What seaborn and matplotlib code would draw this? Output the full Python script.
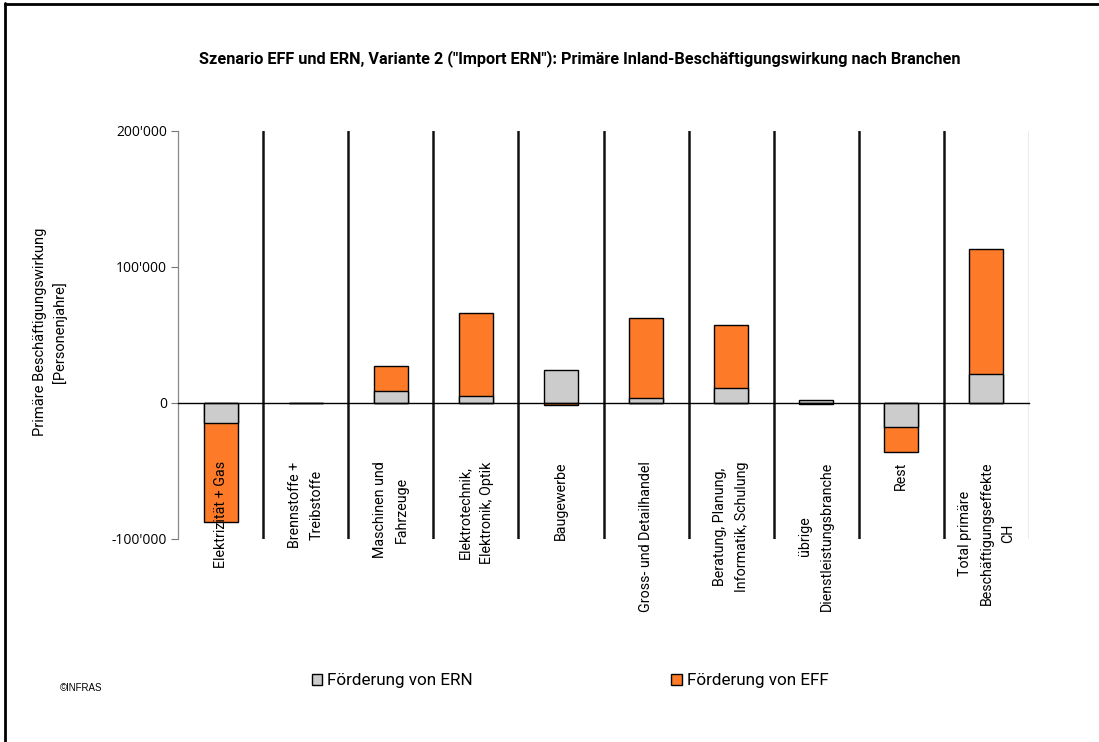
import matplotlib
matplotlib.use("Agg")
import matplotlib.pyplot as plt
from matplotlib.lines import Line2D
from matplotlib.patches import Patch
from matplotlib.ticker import FuncFormatter
import seaborn as sns

# Branches and values (Personenjahre)
branches = ['Elektrizität + Gas', 'Brennstoffe + Treibstoffe', 'Maschinen und Fahrzeuge',
            'Elektrotechnik, Elektronik, Optik', 'Baugewerbe', 'Gross- und Detailhandel',
            'Beratung, Planung, Informatik, Schulung', 'übrige Dienstleistungsbranche',
            'Rest', 'Total primäre Beschäftigungseffekte CH']
tick_labels = ['Elektrizität + Gas', 'Brennstoffe +\nTreibstoffe', 'Maschinen und\nFahrzeuge',
               'Elektrotechnik,\nElektronik, Optik', 'Baugewerbe', 'Gross- und Detailhandel',
               'Beratung, Planung,\nInformatik, Schulung', 'übrige\nDienstleistungsbranche',
               'Rest', 'Total primäre\nBeschäftigungseffekte\nCH']
ern = [-14700, 0, 8500, 4900, 24300, 3700, 11300, 2000, -18000, 21600]
eff = [-72500, 0, 19000, 61400, -1700, 58600, 46400, -800, -17900, 91800]
y_ticks = [-100000, 0, 100000, 200000]

GRAY = '#CCCCCC'
ORANGE = '#FC7A28'

sns.set_theme(style='white')
plt.rcParams['font.family'] = ['Roboto', 'DejaVu Sans']
plt.rcParams['text.color'] = 'black'
plt.rcParams['xtick.color'] = 'black'
plt.rcParams['ytick.color'] = 'black'

fig = plt.figure(figsize=(10.99, 7.42), dpi=100)
ax = fig.add_axes([178 / 1099, 1 - 539 / 742, 851 / 1099, 408 / 742])

# Excel-style stacking: EFF sits on ERN when signs agree, otherwise starts at 0
orange_extent = [a + b if a * b >= 0 else b for a, b in zip(ern, eff)]

sns.barplot(x=branches, y=orange_extent, color=ORANGE, saturation=1, width=0.4,
            edgecolor='black', linewidth=1, ax=ax)
sns.barplot(x=branches, y=ern, color=GRAY, saturation=1, width=0.4,
            edgecolor='black', linewidth=1, ax=ax)

ax.set_xlim(-0.5, len(branches) - 0.5)
ax.set_ylim(-100000, 200000)
ax.set_yticks(y_ticks)
ax.yaxis.set_major_formatter(FuncFormatter(lambda v, p: f"{int(v):,}".replace(',', "'")))
ax.tick_params(axis='y', direction='out', length=5, width=0.8, color='#777777',
               pad=3, left=True)
for lbl in ax.get_yticklabels():
    lbl.set_fontfamily(['Open Sans', 'DejaVu Sans'])
    lbl.set_fontsize(10)

# category separators
for i in range(len(branches)):
    if i < len(branches) - 1:
        ax.axvline(i + 0.5, color='#111111', lw=1.8, zorder=0.5)
    else:
        ax.axvline(i + 0.5, color='#999999', lw=1.0, zorder=0.5)

for side in ['top', 'right']:
    ax.spines[side].set_visible(False)
ax.spines['left'].set_color('#888888')
ax.spines['left'].set_linewidth(0.9)
ax.spines['bottom'].set_position(('data', 0))
ax.spines['bottom'].set_color('black')
ax.spines['bottom'].set_linewidth(1.0)

ax.set_xticks(range(len(branches)))
ax.set_xticklabels(tick_labels, rotation=90, va='top', ha='center',
                   multialignment='center', fontsize=10.3, linespacing=1.7)
ax.tick_params(axis='x', length=0, pad=42, bottom=False)
ax.xaxis.set_zorder(5)
ax.set_xlabel('')
ax.set_ylabel('')

fig.text(580 / 1099, 1 - 59 / 742,
         'Szenario EFF und ERN, Variante 2 ("Import ERN"): Primäre Inland-Beschäftigungswirkung nach Branchen',
         ha='center', va='center', fontsize=11.7, fontweight='bold')
fig.text(50 / 1099, 1 - 332 / 742, 'Primäre Beschäftigungswirkung\n[Personenjahre]',
         rotation=90, ha='center', va='center', multialignment='center',
         fontsize=10.5, linespacing=1.5)
fig.text(60 / 1099, 1 - 688 / 742, '©INFRAS', ha='left', va='center', fontsize=7,
         family=['Liberation Sans', 'DejaVu Sans'])

handles = [Patch(facecolor=GRAY, edgecolor='black', lw=1, label='Förderung von ERN'),
           Patch(facecolor=ORANGE, edgecolor='black', lw=1, label='Förderung von EFF')]
fig.legend(handles=handles, loc='center left', bbox_to_anchor=(312 / 1099, 1 - 681 / 742),
           ncol=2, frameon=False, fontsize=12.3, handlelength=0.6, handleheight=0.6,
           handletextpad=0.3, columnspacing=11.6, borderaxespad=0, borderpad=0)

# outer frame (left and top)
fig.add_artist(Line2D([5 / 1099, 5 / 1099], [0, 1 - 3 / 742], transform=fig.transFigure,
                      color='black', lw=2))
fig.add_artist(Line2D([5 / 1099, 1098 / 1099], [1 - 4 / 742, 1 - 4 / 742],
                      transform=fig.transFigure, color='black', lw=2))

fig.savefig('out.png', dpi=100)
